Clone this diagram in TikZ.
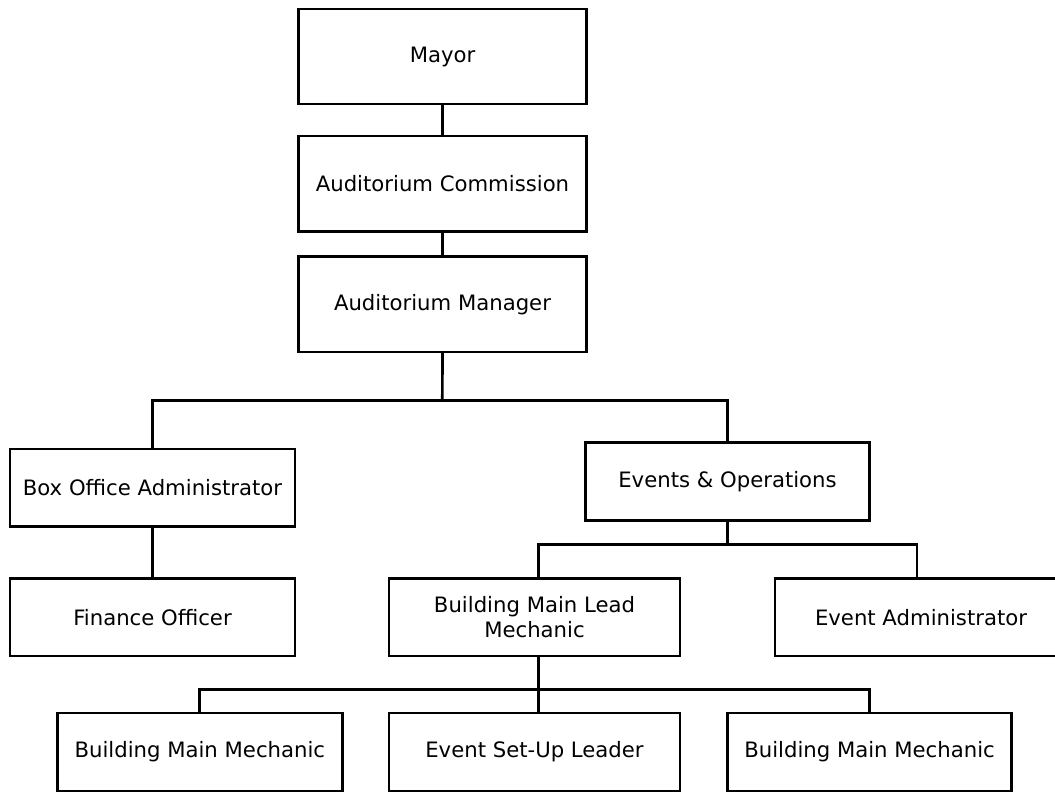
\documentclass[tikz,border=0pt]{standalone}
\usepackage{fontspec}
\setmainfont{DejaVu Sans}
\usetikzlibrary{calc}
\begin{document}
\begin{tikzpicture}[x=0.75pt,y=-0.75pt,
  box/.style={draw=black,line width=2pt,fill=white,rectangle,inner sep=0pt,
    minimum width=#1*0.75pt,align=center,font=\fontsize{15.9}{18.75}\selectfont},
  box/.default=285,
  tall/.style={minimum height=95.3*0.75pt},
  short/.style={minimum height=77.7*0.75pt},
  link/.style={line width=2pt,line cap=rect}]
\useasboundingbox[fill=white] (0,0) rectangle (1055,792);
% nodes
\node[box=288.4,tall] (mayor) at (442.5,56.5) {Mayor};
\node[box=288.4,tall] (comm) at (442.5,183.8) {Auditorium Commission};
\node[box=288.4,tall] (mgr) at (442.5,304.2) {Auditorium Manager};
\node[box=285,short] (boxoff) at (152.5,487.8) {Box Office Administrator};
\node[box=283.6,short] (evops) at (727.5,481.5) {Events \& Operations};
\node[box=285,short] (fin) at (152.5,617.2) {Finance Officer};
\node[box=291,short] (bmlm) at (534.5,617.2) {Building Main Lead\\Mechanic};
\node[box=292,short] (evadm) at (921,617.2) {Event Administrator};
\node[box=285,short] (bmm1) at (199.8,752) {Building Main Mechanic};
\node[box=291,short] (setup) at (534.5,752) {Event Set-Up Leader};
\node[box=284.4,short] (bmm2) at (869.5,752) {Building Main Mechanic};
% bus coordinates
\coordinate (bus1) at (442.3,400.3);
\coordinate (bus2) at (727.5,544.3);
\coordinate (bus3) at (538.2,689.3);
% connectors
\draw[link] (mayor.south) -- (comm.north);
\draw[link] (comm.south) -- (mgr.north);
\draw[link] (mgr.south) -- (bus1);
\draw[link] (bus1) -| (boxoff.north);
\draw[link] (bus1) -| (evops.north);
\draw[link] (boxoff.south) -- (fin.north);
\draw[link] (evops.south) -- (bus2);
\draw[link] (bus2) -| ($(bmlm.north)+(3.7,0)$);
\draw[link] (bus2) -| ($(evadm.north)+(-4,0)$);
\draw[link] ($(bmlm.south)+(3.7,0)$) -- (bus3);
\draw[link] (bus3) -| (bmm1.north);
\draw[link] (bus3) -- ($(setup.north)+(3.7,0)$);
\draw[link] (bus3) -| (bmm2.north);
\end{tikzpicture}
\end{document}
